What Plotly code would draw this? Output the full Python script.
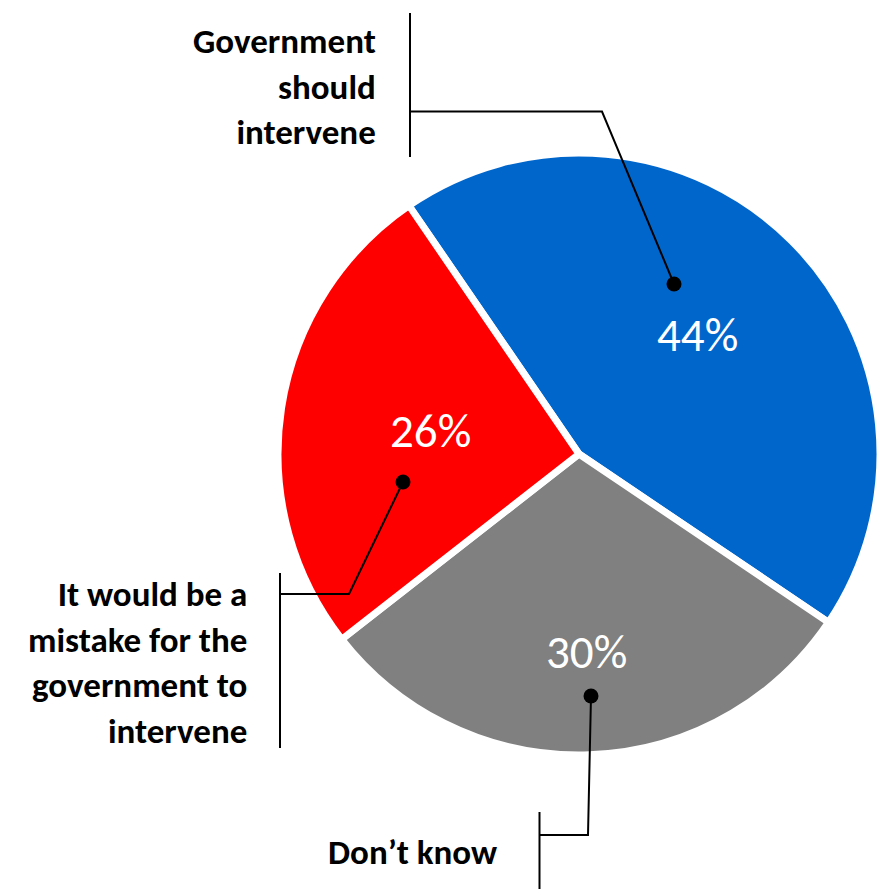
import math
import plotly.graph_objects as go

# ---- data ----
categories = ["Government should intervene", "Don\u2019t know",
              "It would be a mistake for the government to intervene"]
values = [44, 30, 26]
colors = ["#0066CC", "#808080", "#FF0000"]
label_texts = ["Government<br>should<br>intervene",
               "Don\u2019t know",
               "It would be a<br>mistake for the<br>government to<br>intervene"]

# ---- layout constants (pixels of the 880x889 canvas) ----
W, H = 880, 889
ROT = 325.6                     # start angle of the first slice, clockwise from 12 o'clock
CX, CY = 579.5, 454             # pie centre (px from top-left)
R = 301.5                       # pie radius
pct_radius = [0.557, 0.657, 0.50]   # radial position of the % text, per slice

def px(x, y):
    return x / W, 1 - y / H

fig = go.Figure()
fig.add_trace(go.Pie(
    labels=categories, values=values, sort=False, direction="clockwise",
    rotation=ROT, marker=dict(colors=colors, line=dict(color="white", width=7)),
    textinfo="none", hoverinfo="label+percent", showlegend=False,
    domain=dict(x=[(CX - R) / W, 1], y=[(H - CY - R - 1) / H, (H - CY + R + 1) / H]),
))

annotations = []
# percentage labels placed from the slice geometry
total = sum(values)
start = ROT
for v, f in zip(values, pct_radius):
    span = 360 * v / total
    mid = math.radians(start + span / 2)
    start += span
    x = CX + f * R * math.sin(mid)
    y = CY - f * R * math.cos(mid)
    ax, ay = px(x, y)
    annotations.append(dict(x=ax, y=ay, xref="paper", yref="paper", text=f"{v}%",
                            showarrow=False, xanchor="center", yanchor="middle",
                            font=dict(family="Carlito, Calibri, Lato", size=47, color="white")))

# category labels
label_pos = [(378, 87), (499, 852), (249, 662)]
for t, (x, y) in zip(label_texts, label_pos):
    ax, ay = px(x, y)
    annotations.append(dict(x=ax, y=ay, xref="paper", yref="paper", text=f"<b>{t}</b>",
                            showarrow=False, xanchor="right", yanchor="middle", align="right",
                            font=dict(family="Carlito, Calibri, Lato", size=35, color="black")))

# leader lines: bracket bar, elbow path, dot
brackets = [
    dict(bar=((410, 13), (410, 157)), path=[(410, 111.5), (602, 111.5), (674, 284)], dot=(674, 284)),
    dict(bar=((539.5, 812), (539.5, 895)), path=[(539.5, 835), (588, 835), (591, 696)], dot=(591, 696)),
    dict(bar=((280, 573), (280, 748)), path=[(280, 594), (349, 594), (403, 482)], dot=(403, 482)),
]
shapes = []
for b in brackets:
    (x0, y0), (x1, y1) = b["bar"]
    p0, p1 = px(x0, y0), px(x1, y1)
    shapes.append(dict(type="line", xref="paper", yref="paper", x0=p0[0], y0=p0[1],
                       x1=p1[0], y1=p1[1], line=dict(color="black", width=2)))
    pts = [px(x, y) for x, y in b["path"]]
    d = "M " + " L ".join(f"{x},{y}" for x, y in pts)
    shapes.append(dict(type="path", xref="paper", yref="paper", path=d,
                       line=dict(color="black", width=2)))
    dx, dy = b["dot"]
    r = 7.5
    a0, a1 = px(dx - r, dy - r), px(dx + r, dy + r)
    shapes.append(dict(type="circle", xref="paper", yref="paper", x0=a0[0], y0=a0[1],
                       x1=a1[0], y1=a1[1], fillcolor="black", line=dict(width=0)))

fig.update_layout(
    width=W, height=H, margin=dict(l=0, r=0, t=0, b=0),
    paper_bgcolor="white", plot_bgcolor="white",
    annotations=annotations, shapes=shapes,
)
fig.write_html("out.html", config={"displayModeBar": False},
               post_script="document.body.style.margin='0';document.body.style.overflow='hidden';")
